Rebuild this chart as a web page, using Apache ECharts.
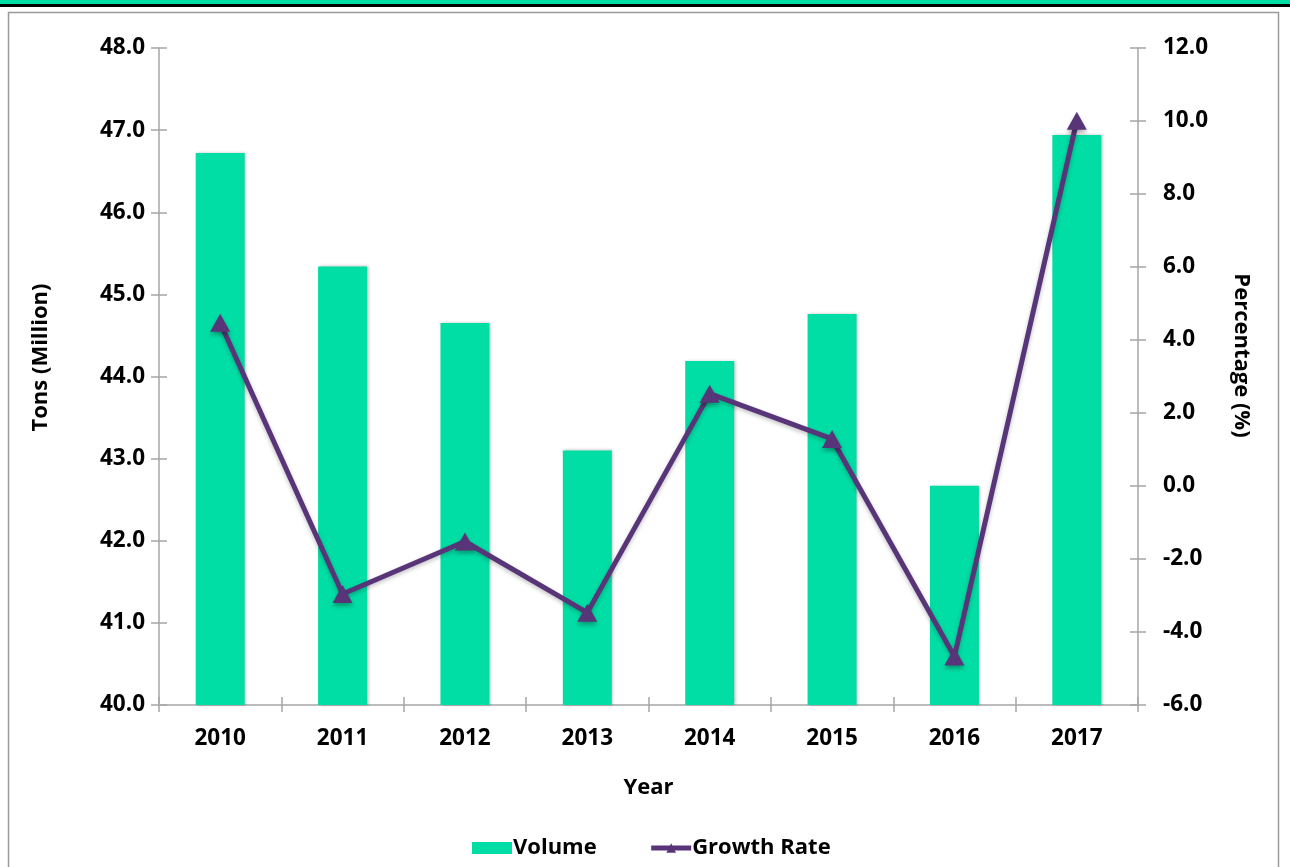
<!DOCTYPE html>
<html>
<head>
<meta charset="utf-8">
<style>
  html, body { margin: 0; padding: 0; background: #ffffff; }
  #chart { width: 1290px; height: 867px; }
</style>
<script src="https://cdn.jsdelivr.net/npm/echarts@6/dist/echarts.min.js"></script>
</head>
<body>
<div id="chart"></div>
<script>
// Annual volume (million tons) and year-on-year growth rate (%)
const years = ['2010', '2011', '2012', '2013', '2014', '2015', '2016', '2017'];
const volume = [46.72, 45.34, 44.65, 43.10, 44.19, 44.76, 42.67, 46.94];
const growthRate = [4.47, -2.96, -1.52, -3.47, 2.53, 1.29, -4.67, 10.01];

const TEAL = '#00DDA5';
const PURPLE = '#583579';
const AXIS_GREY = '#a6a6a6';
const FONT = '"Open Sans", Lato, sans-serif';

const chart = echarts.init(document.getElementById('chart'), null, { renderer: 'canvas' });

const labelStyle = { color: '#000', fontFamily: FONT, fontWeight: 'bold', fontSize: 22.5 };
const titleStyle = { color: '#000', fontFamily: FONT, fontWeight: 'bold', fontSize: 22 };

const valueAxisBase = {
  type: 'value',
  splitLine: { show: false },
  axisLine: { show: true, lineStyle: { color: AXIS_GREY, width: 1.5 } },
  axisTick: { show: true, length: 8, lineStyle: { color: AXIS_GREY, width: 1.5 } }
};

const option = {
  backgroundColor: '#ffffff',
  animation: false,
  graphic: [
    { type: 'rect', shape: { x: 0, y: 0, width: 1290, height: 5 }, style: { fill: TEAL }, z: 100 },
    { type: 'rect', shape: { x: 0, y: 4, width: 1290, height: 3 }, style: { fill: '#000' }, z: 100 },
    { type: 'rect', shape: { x: 8.5, y: 12.5, width: 1270, height: 880 },
      style: { fill: 'none', stroke: '#9a9a9a', lineWidth: 1.5 }, z: -10 }
  ],
  grid: { left: 159, right: 152, top: 48, bottom: 162, containLabel: false },
  legend: {
    bottom: 3,
    left: 467,
    itemGap: 52,
    itemWidth: 40,
    itemHeight: 12,
    lineStyle: { width: 5 },
    textStyle: { color: '#000', fontFamily: FONT, fontWeight: 'bold', fontSize: 22, padding: [0, 0, 0, -4] },
    data: [
      { name: 'Volume', icon: 'rect' },
      { name: 'Growth Rate' }
    ]
  },
  xAxis: [
    {
      type: 'category',
      data: years,
      name: 'Year',
      nameLocation: 'middle',
      nameGap: 72,
      nameTextStyle: titleStyle,
      axisLine: { show: true, onZero: false, lineStyle: { color: AXIS_GREY, width: 1.5 } },
      axisTick: { show: true, alignWithLabel: false, length: 7, lineStyle: { color: AXIS_GREY, width: 1.5 } },
      axisLabel: Object.assign({ margin: 22 }, labelStyle)
    },
    {
      type: 'category',
      data: years,
      position: 'bottom',
      axisLine: { show: false, onZero: false },
      axisTick: { show: true, inside: true, alignWithLabel: false, length: 8, lineStyle: { color: AXIS_GREY, width: 1.5 } },
      axisLabel: { show: false }
    }
  ],
  yAxis: [
    Object.assign({}, valueAxisBase, {
      position: 'left',
      min: 40, max: 48, interval: 1,
      name: 'Tons (Million)',
      nameLocation: 'middle',
      nameGap: 107,
      nameRotate: 90,
      nameTextStyle: Object.assign({ padding: [0, 0, 0, 38] }, titleStyle),
      axisLabel: Object.assign({ margin: 14, formatter: v => v.toFixed(1) }, labelStyle)
    }),
    Object.assign({}, valueAxisBase, {
      position: 'right',
      min: -6, max: 12, interval: 2,
      name: 'Percentage (%)',
      nameLocation: 'middle',
      nameGap: 92,
      nameRotate: -90,
      nameTextStyle: Object.assign({ padding: [0, 42, 0, 0] }, titleStyle),
      axisLabel: Object.assign({ margin: 25, formatter: v => v.toFixed(1) }, labelStyle)
    }),
    Object.assign({}, valueAxisBase, {
      position: 'left',
      min: 40, max: 48, interval: 1,
      axisLine: { show: false },
      axisTick: { show: true, inside: true, length: 8, lineStyle: { color: AXIS_GREY, width: 1.5 } },
      axisLabel: { show: false }
    }),
    Object.assign({}, valueAxisBase, {
      position: 'right',
      min: -6, max: 12, interval: 2,
      axisLine: { show: false },
      axisTick: { show: true, inside: true, length: 8, lineStyle: { color: AXIS_GREY, width: 1.5 } },
      axisLabel: { show: false }
    })
  ],
  series: [
    {
      name: 'Volume',
      type: 'bar',
      xAxisIndex: 0,
      yAxisIndex: 0,
      data: volume,
      barWidth: '40%',
      itemStyle: {
        color: TEAL,
        shadowColor: 'rgba(0,0,0,0.25)',
        shadowBlur: 3,
        shadowOffsetX: 1.5,
        shadowOffsetY: 0
      }
    },
    {
      name: 'Growth Rate',
      type: 'line',
      xAxisIndex: 0,
      yAxisIndex: 1,
      data: growthRate,
      symbol: 'triangle',
      symbolSize: [20, 18],
      showAllSymbol: true,
      lineStyle: {
        color: PURPLE,
        width: 5,
        shadowColor: 'rgba(0,0,0,0.25)',
        shadowBlur: 4,
        shadowOffsetY: 2
      },
      itemStyle: {
        color: PURPLE,
        shadowColor: 'rgba(0,0,0,0.3)',
        shadowBlur: 4,
        shadowOffsetY: 3
      },
      z: 5
    }
  ]
};

chart.setOption(option);
</script>
</body>
</html>
